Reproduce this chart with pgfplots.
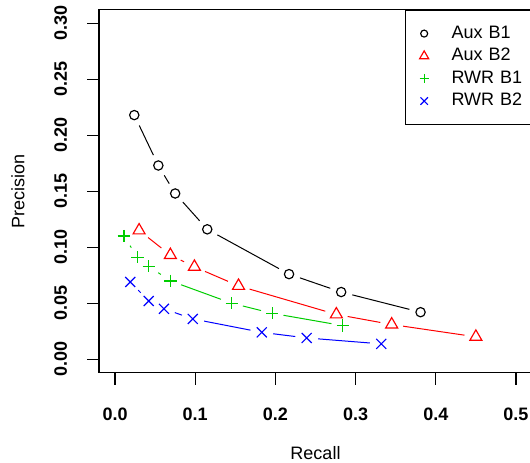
\documentclass[border=0pt]{standalone}
\usepackage{pgfplots}
\pgfplotsset{compat=1.18}
\usepackage{pgfplotstable}
\usepackage{fontspec}
\setmainfont{Liberation Sans}
\definecolor{rgreen}{RGB}{0,205,0}
\definecolor{rred}{RGB}{255,0,0}
\definecolor{rblue}{RGB}{0,0,255}

\pgfplotstableread{
x y
0.024 0.218
0.054 0.173
0.075 0.148
0.115 0.116
0.217 0.076
0.282 0.060
0.381 0.042
}\auxa
\pgfplotstableread{
x y
0.030 0.115
0.069 0.093
0.099 0.0825
0.154 0.0655
0.276 0.040
0.345 0.031
0.450 0.020
}\auxb
\pgfplotstableread{
x y
0.011 0.110
0.028 0.091
0.042 0.083
0.069 0.070
0.1455 0.050
0.196 0.041
0.284 0.030
}\rwra
\pgfplotstableread{
x y
0.019 0.069
0.042 0.052
0.061 0.045
0.097 0.036
0.183 0.024
0.239 0.019
0.332 0.0137
}\rwrb

% draw R type="b" style line segments (gaps around points)
\newcommand{\drawsegs}[2]{%
  \pgfplotstablegetrowsof{#1}%
  \pgfmathtruncatemacro{\nseg}{\pgfplotsretval-2}%
  \pgfplotsforeachungrouped \i in {0,...,\nseg}{%
    \pgfmathtruncatemacro{\j}{\i+1}%
    \pgfplotstablegetelem{\i}{x}\of{#1}\let\xa\pgfplotsretval
    \pgfplotstablegetelem{\i}{y}\of{#1}\let\ya\pgfplotsretval
    \pgfplotstablegetelem{\j}{x}\of{#1}\let\xb\pgfplotsretval
    \pgfplotstablegetelem{\j}{y}\of{#1}\let\yb\pgfplotsretval
    \pgfmathsetmacro{\seglen}{veclen((\xb-\xa)*802,(\yb-\ya)*1120)}%
    \ifdim\seglen pt>23pt
      \edef\temp{\noexpand\addplot[#2, mark=none, forget plot, line width=0.6pt, shorten <=6.9pt, shorten >=6.9pt] coordinates {(\xa,\ya) (\xb,\yb)};}%
      \temp
    \fi
  }%
}

\begin{document}
\begin{tikzpicture}
\begin{axis}[
  scale only axis, width=259.8pt, height=217.7pt,
  xmin=-0.02, xmax=0.52, ymin=-0.012, ymax=0.312,
  axis line style={line width=0.7pt},
  every tick/.style={black, line width=0.7pt},
  tick align=outside, major tick length=7.2pt,
  xtick={0,0.1,0.2,0.3,0.4,0.5}, ytick={0,0.05,0.1,0.15,0.2,0.25,0.3},
  xtick pos=left, ytick pos=left,
  xticklabels={0.0,0.1,0.2,0.3,0.4,0.5},
  yticklabels={0.00,0.05,0.10,0.15,0.20,0.25,0.30},
  ticklabel style={font=\fontsize{10.8}{13}\selectfont\bfseries},
  xticklabel style={anchor=center, yshift=-18pt},
  yticklabel style={xshift=-15.8pt, rotate=90, anchor=center},
  every axis x label/.style={at={(axis description cs:0.5,0)}, yshift=-48.2pt, anchor=center},
  every axis y label/.style={at={(axis description cs:0,0.5)}, xshift=-48.6pt, rotate=90, anchor=center},
  label style={font=\fontsize{10.8}{13}\selectfont},
  xlabel={Recall}, ylabel={Precision},
  legend style={at={(1,1)}, anchor=north east, draw=black, line width=0.6pt, fill=white,
    inner xsep=0pt, inner ysep=7.2pt, row sep=0pt, column sep=0pt,
    nodes={inner sep=0pt, text width=48pt, text height=9.6pt, text depth=3.9pt,
      font=\fontsize{10.8}{13}\selectfont, anchor=west}},
  legend cell align=left,
  legend image code/.code={\path (0pt,0pt) (26.6pt,0pt); \draw[#1, mark options={scale=0.75}] plot coordinates {(10.6pt,0pt)};},
]
\coordinate (sw) at (rel axis cs:0,0);
\drawsegs{\auxa}{black}
\drawsegs{\auxb}{rred}
\drawsegs{\rwra}{rgreen}
\drawsegs{\rwrb}{rblue}
\addplot[only marks, black, mark=o, mark size=2.8pt, line width=0.7pt] table {\auxa};
\addlegendentry{Aux B1}
\addplot[only marks, rred, mark=triangle, mark size=4.16pt, line width=0.7pt] table {\auxb};
\addlegendentry{Aux B2}
\addplot[only marks, rgreen, mark=+, mark size=3.7pt, line width=0.8pt] table {\rwra};
\addlegendentry{RWR B1}
\addplot[only marks, rblue, mark=x, mark size=4.24pt, line width=0.7pt] table {\rwrb};
\addlegendentry{RWR B2}
\end{axis}
\pgfresetboundingbox
\path[use as bounding box] ([shift={(-59.4pt,-54.2pt)}]sw) rectangle ([shift={(258.6pt,223.6pt)}]sw);
\end{tikzpicture}
\end{document}
